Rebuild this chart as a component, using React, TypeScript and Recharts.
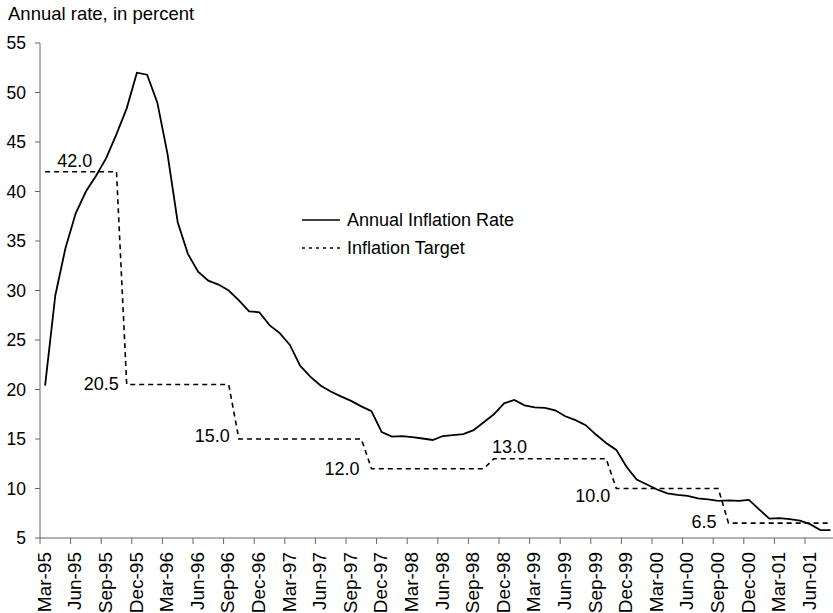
import React from 'react';
import { LineChart, Line, XAxis, YAxis, Legend, LabelList } from 'recharts';

const months = [
  'Mar-95','Apr-95','May-95','Jun-95','Jul-95','Aug-95','Sep-95','Oct-95','Nov-95','Dec-95',
  'Jan-96','Feb-96','Mar-96','Apr-96','May-96','Jun-96','Jul-96','Aug-96','Sep-96','Oct-96','Nov-96','Dec-96',
  'Jan-97','Feb-97','Mar-97','Apr-97','May-97','Jun-97','Jul-97','Aug-97','Sep-97','Oct-97','Nov-97','Dec-97',
  'Jan-98','Feb-98','Mar-98','Apr-98','May-98','Jun-98','Jul-98','Aug-98','Sep-98','Oct-98','Nov-98','Dec-98',
  'Jan-99','Feb-99','Mar-99','Apr-99','May-99','Jun-99','Jul-99','Aug-99','Sep-99','Oct-99','Nov-99','Dec-99',
  'Jan-00','Feb-00','Mar-00','Apr-00','May-00','Jun-00','Jul-00','Aug-00','Sep-00','Oct-00','Nov-00','Dec-00',
  'Jan-01','Feb-01','Mar-01','Apr-01','May-01','Jun-01','Jul-01','Aug-01',
];

const inflationRate = [
  20.4, 29.5, 34.3, 37.8, 40.0, 41.6, 43.4, 45.8, 48.4, 52.0,
  51.8, 49.0, 43.8, 36.9, 33.7, 31.9, 31.0, 30.6, 30.0, 29.0, 27.9, 27.8,
  26.5, 25.7, 24.5, 22.4, 21.3, 20.4, 19.8, 19.3, 18.85, 18.3, 17.8, 15.7,
  15.25, 15.3, 15.2, 15.05, 14.9, 15.3, 15.4, 15.5, 15.9, 16.7, 17.5, 18.6,
  18.95, 18.4, 18.2, 18.15, 17.9, 17.3, 16.9, 16.4, 15.45, 14.6, 13.9, 12.2,
  10.9, 10.4, 9.9, 9.5, 9.35, 9.25, 9.0, 8.9, 8.75, 8.8, 8.75, 8.85,
  7.9, 6.95, 7.0, 6.9, 6.75, 6.4, 5.8, 5.8,
];

const inflationTarget = [
  42.0, 42.0, 42.0, 42.0, 42.0, 42.0, 42.0, 42.0, 20.5, 20.5,
  20.5, 20.5, 20.5, 20.5, 20.5, 20.5, 20.5, 20.5, 20.5, 15.0, 15.0, 15.0,
  15.0, 15.0, 15.0, 15.0, 15.0, 15.0, 15.0, 15.0, 15.0, 15.0, 12.0, 12.0,
  12.0, 12.0, 12.0, 12.0, 12.0, 12.0, 12.0, 12.0, 12.0, 12.0, 13.0, 13.0,
  13.0, 13.0, 13.0, 13.0, 13.0, 13.0, 13.0, 13.0, 13.0, 13.0, 10.0, 10.0,
  10.0, 10.0, 10.0, 10.0, 10.0, 10.0, 10.0, 10.0, 10.0, 6.5, 6.5, 6.5,
  6.5, 6.5, 6.5, 6.5, 6.5, 6.5, 6.5, 6.5,
];

const yTicks = [5, 10, 15, 20, 25, 30, 35, 40, 45, 50, 55];
const tickMonths = months.filter((_, i) => i % 3 === 0);
const targetLabelMonths = ['Apr-95', 'Nov-95', 'Oct-96', 'Nov-97', 'Nov-98', 'Nov-99', 'Oct-00'];

const seriesNames = { rate: 'Annual Inflation Rate', target: 'Inflation Target' };
const titleText = 'Annual rate, in percent';

// ---- layout / style (not data) ----
const FONT = '"Liberation Sans", Arial, Helvetica, sans-serif';
const CHART_W = 840;
const CHART_H = 613;
const MARGIN = { top: 43, right: 4.4, left: 0, bottom: 0 };
const Y_AXIS_W = 40;
const X_AXIS_H = 75;
const PLOT_W = CHART_W - MARGIN.left - MARGIN.right - Y_AXIS_W;
const BAND = PLOT_W / months.length;
const AXIS_COLOR = '#666';

const labelPlacement = [
  { anchor: 'start', dx: 2, dy: -11 },
  { anchor: 'end', dx: -8, dy: -1 },
  { anchor: 'end', dx: -9, dy: -3 },
  { anchor: 'end', dx: -12, dy: 0 },
  { anchor: 'start', dx: -2, dy: -12 },
  { anchor: 'end', dx: -6, dy: 7 },
  { anchor: 'end', dx: -12, dy: -1 },
];

const data = months.map((m, i) => ({
  idx: i,
  month: m,
  rate: inflationRate[i],
  target: inflationTarget[i],
}));

const tickIdx = tickMonths.map((m) => months.indexOf(m));

const MonthTick = (props: any) => {
  const { x, y, payload } = props;
  const label = months[payload.value];
  const tx = x - BAND / 2;
  return (
    <g>
      <line x1={tx} x2={tx} y1={y - 13} y2={y - 7} stroke={AXIS_COLOR} strokeWidth={1} />
      <text
        x={x - 1}
        y={y + 1}
        transform={`rotate(-90, ${x - 1}, ${y + 1})`}
        textAnchor="end"
        dy="0.35em"
        fontSize={19}
        fontFamily={FONT}
        fill="#000"
      >
        {label}
      </text>
    </g>
  );
};

const renderTargetLabel = (props: any) => {
  const index = props.index;
  const month = months[index];
  const k = targetLabelMonths.indexOf(month);
  if (k < 0) return null;
  const x = props.x ?? props.viewBox?.x;
  const y = props.y ?? props.viewBox?.y;
  const p = labelPlacement[k];
  return (
    <text
      key={`tl-${k}`}
      x={x + p.dx}
      y={y + p.dy}
      dy="0.35em"
      textAnchor={p.anchor}
      fontSize={18}
      fontFamily={FONT}
      fill="#000"
    >
      {Number(inflationTarget[index]).toFixed(1)}
    </text>
  );
};

const renderLegend = (props: any) => {
  const { payload } = props;
  return (
    <div style={{ fontFamily: FONT, fontSize: 18, color: '#000' }}>
      {(payload || []).map((entry: any, i: number) => {
        const dashed = entry.dataKey === 'target';
        return (
          <div key={i} style={{ display: 'flex', alignItems: 'center', height: 28 }}>
            <svg width={45} height={10} style={{ display: 'block' }}>
              <line
                x1={0}
                x2={38}
                y1={5}
                y2={5}
                stroke="#000"
                strokeWidth={dashed ? 1.4 : 1.6}
                strokeDasharray={dashed ? '3 4' : undefined}
              />
            </svg>
            <span style={{ whiteSpace: 'nowrap', lineHeight: '28px' }}>{entry.value}</span>
          </div>
        );
      })}
    </div>
  );
};

export default function App() {
  return (
    <div
      style={{
        position: 'absolute',
        left: 0,
        top: 0,
        width: 833,
        height: 613,
        overflow: 'hidden',
        background: '#fff',
      }}
    >
      <div
        style={{
          position: 'absolute',
          left: 8,
          top: 3,
          fontFamily: FONT,
          fontSize: 18.5,
          color: '#000',
          whiteSpace: 'nowrap',
        }}
      >
        {titleText}
      </div>
      <LineChart width={CHART_W} height={CHART_H} data={data} margin={MARGIN}>
        <XAxis
          dataKey="idx"
          type="number"
          domain={[-0.5, months.length - 0.5]}
          ticks={tickIdx}
          interval={0}
          tick={<MonthTick />}
          tickLine={false}
          tickSize={6}
          tickMargin={7}
          height={X_AXIS_H}
          axisLine={{ stroke: AXIS_COLOR, strokeWidth: 1 }}
          allowDataOverflow
        />
        <YAxis
          type="number"
          domain={[5, 55]}
          ticks={yTicks}
          interval={0}
          width={Y_AXIS_W}
          tickSize={5}
          tickMargin={9}
          tick={{ fontSize: 17.5, fontFamily: FONT, fill: '#000' }}
          tickLine={{ stroke: AXIS_COLOR }}
          axisLine={{ stroke: AXIS_COLOR, strokeWidth: 1 }}
          allowDataOverflow
        />
        <Legend
          layout="vertical"
          align="center"
          verticalAlign="middle"
          wrapperStyle={{ left: 302, top: 206, width: 260 }}
          content={renderLegend}
        />
        <Line
          dataKey="rate"
          name={seriesNames.rate}
          type="linear"
          stroke="#000"
          strokeWidth={1.8}
          dot={false}
          activeDot={false}
          isAnimationActive={false}
        />
        <Line
          dataKey="target"
          name={seriesNames.target}
          type="linear"
          stroke="#000"
          strokeWidth={1.6}
          strokeDasharray="5 4"
          dot={false}
          activeDot={false}
          isAnimationActive={false}
        >
          <LabelList dataKey="target" content={renderTargetLabel} />
        </Line>
      </LineChart>
    </div>
  );
}
